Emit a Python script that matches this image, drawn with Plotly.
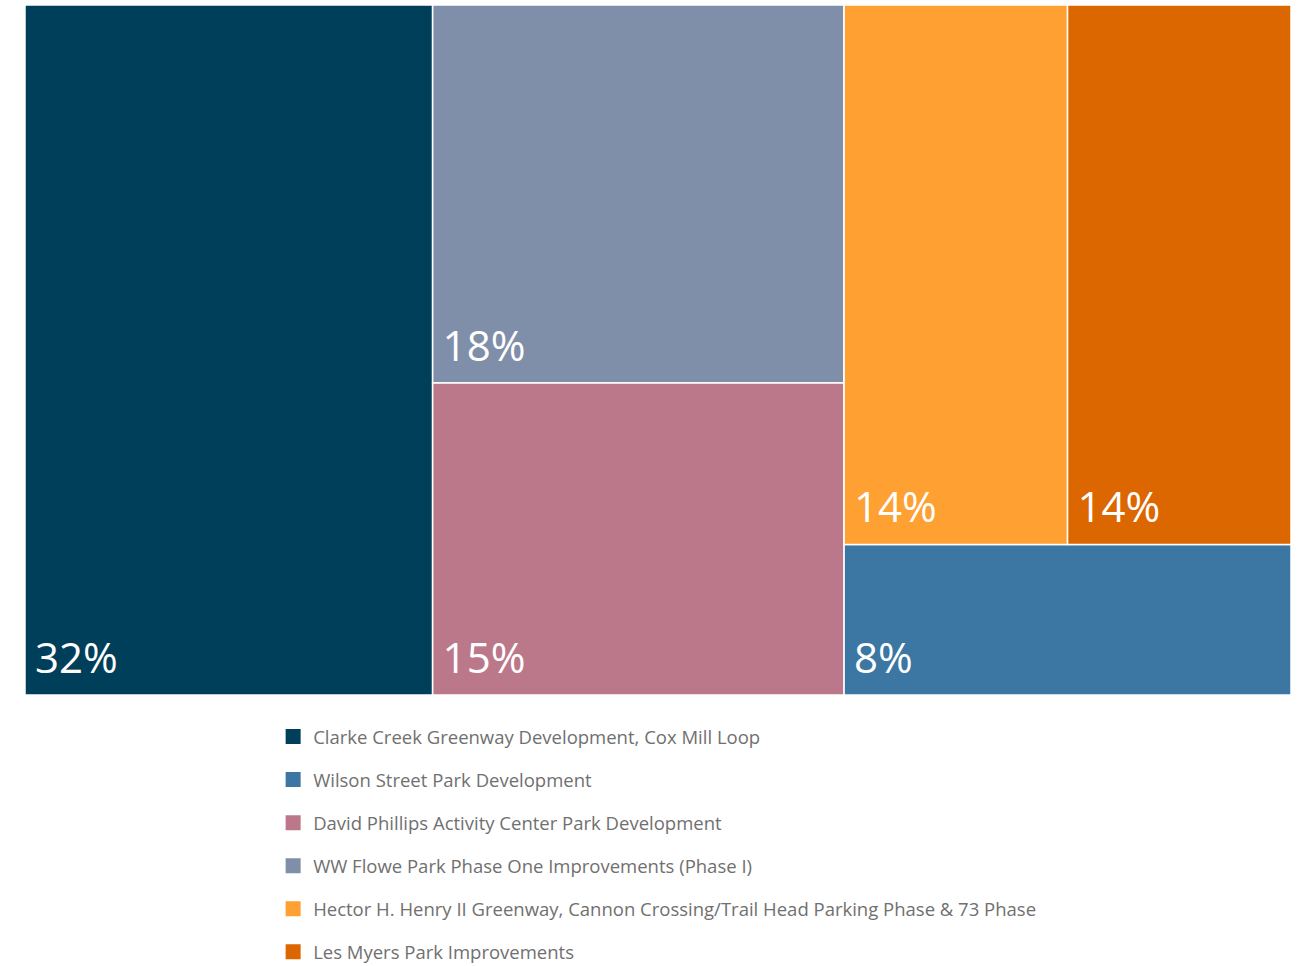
import plotly.graph_objects as go

# Project shares (percent of total funding)
projects = [
    "Clarke Creek Greenway Development, Cox Mill Loop",
    "Wilson Street Park Development",
    "David Phillips Activity Center Park Development",
    "WW Flowe Park Phase One Improvements (Phase I)",
    "Hector H. Henry II Greenway, Cannon Crossing/Trail Head Parking Phase & 73 Phase",
    "Les Myers Park Improvements",
]
shares = [32.2, 7.7, 14.7, 17.8, 13.8, 13.8]
colors = ["#003F5A", "#3C76A2", "#BC788B", "#7F8FA9", "#FEA032", "#DC6600"]

# Tile grouping: columns -> stacked cells -> side-by-side cells
groups = {
    projects[0]: "total",
    projects[3]: "colB",
    projects[2]: "colB",
    projects[4]: "pairC",
    projects[5]: "pairC",
    projects[1]: "colC",
}
tile_order = [0, 3, 2, 4, 5, 1]

# percent label, with a trailing spacer dropped below the baseline so the
# number sits a little higher above the bottom edge of its tile
label_fmt = "\u2009%{value:.0f}%<span style='baseline-shift:-7px'>\u2009</span>"

ids = ["total", "colB", "colC", "pairC"]
parents = ["", "total", "total", "colC"]
values = [0, 0, 0, 0]
node_colors = ["#FFFFFF"] * 4
templates = [" "] * 4
for i in tile_order:
    ids.append(projects[i])
    parents.append(groups[projects[i]])
    values.append(shares[i])
    node_colors.append(colors[i])
    templates.append(label_fmt)

# sibling order inside each parent: Clarke, colB, colC / WW, David / pairC, Wilson / Hector, Les
order = ["total", projects[0], "colB", projects[3], projects[2], "colC", "pairC",
         projects[4], projects[5], projects[1]]
idx = [ids.index(o) for o in order]
ids = [ids[k] for k in idx]
parents = [parents[k] for k in idx]
values = [values[k] for k in idx]
node_colors = [node_colors[k] for k in idx]
templates = [templates[k] for k in idx]

fig = go.Figure()
fig.add_trace(go.Treemap(
    ids=ids,
    labels=ids,
    parents=parents,
    values=values,
    branchvalues="remainder",
    sort=False,
    texttemplate=templates,
    textposition="bottom left",
    textfont=dict(family="Open Sans", size=42, color="white"),
    marker=dict(colors=node_colors, line=dict(color="white", width=1.5),
                pad=dict(t=0, l=0, r=0, b=0), depthfade=False),
    tiling=dict(packing="slice-dice", pad=0),
    pathbar=dict(visible=False),
    hoverinfo="label+value",
    domain=dict(x=[0, 1], y=[1 - 690 / 961, 1]),
))

# legend entries
for name, col in zip(projects, colors):
    fig.add_trace(go.Scatter(
        x=[None], y=[None], mode="markers", name=name, legendgroup=name,
        marker=dict(symbol="square", size=15, color=col),
    ))

fig.update_layout(
    width=1300, height=966,
    margin=dict(l=25, r=9, t=5, b=0, autoexpand=False),
    paper_bgcolor="white", plot_bgcolor="white",
    xaxis=dict(visible=False), yaxis=dict(visible=False),
    showlegend=True,
    legend=dict(
        x=0.196, y=(961 - 713) / 961, xanchor="left", yanchor="top",
        orientation="v", tracegroupgap=16,
        font=dict(family="Open Sans", size=18.5, color="#707070"),
        bgcolor="rgba(0,0,0,0)",
    ),
)

fig.write_html("out.html")
